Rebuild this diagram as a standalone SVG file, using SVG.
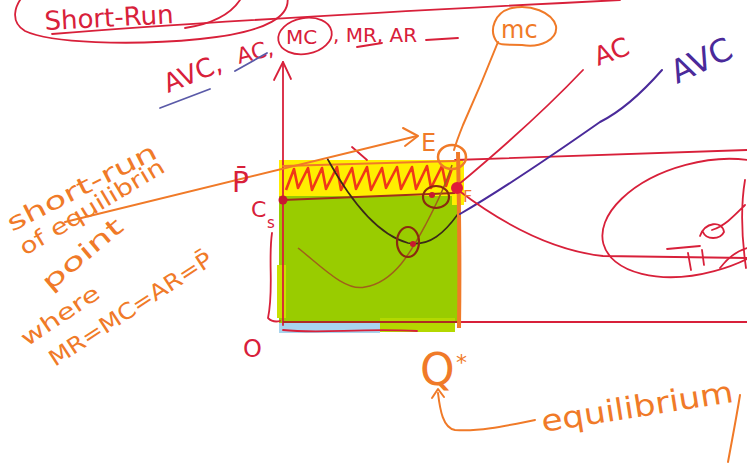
<svg xmlns="http://www.w3.org/2000/svg" width="747" height="465" viewBox="0 0 747 465">
<style>
.r{fill:none;stroke:#d8203a;stroke-width:1.8;stroke-linecap:round;stroke-linejoin:round}
.o{fill:none;stroke:#f07a28;stroke-width:2;stroke-linecap:round;stroke-linejoin:round}
.p{fill:none;stroke:#4a2a9a;stroke-width:2;stroke-linecap:round}
.bl{fill:none;stroke:#5a5aa8;stroke-width:1.8;stroke-linecap:round}
.br{fill:none;stroke:#8a2a10;stroke-width:2.2}
.tr{fill:#d8203a;font-family:'DejaVu Sans',sans-serif}
.to{fill:#f07a28;font-family:'DejaVu Sans',sans-serif}
.tp{fill:#4a2a9a;font-family:'DejaVu Sans',sans-serif}
</style>
<rect width="747" height="465" fill="#ffffff"/>

<g id="title">
<text class="tr" x="45" y="30" font-size="26" transform="rotate(-3 45 30)">Short-Run</text>
<path class="r" d="M287,-5 C292,15 270,32 200,39 C130,46 50,43 25,31 C10,22 14,6 24,-5"/>
<path class="r" d="M240,0 C228,18 205,25 185,28"/>
<path class="r" d="M52,34 C200,22 420,10 620,0"/>
</g>

<g id="fills">
<rect x="279" y="318" width="101" height="15" fill="#a8d4ee"/>
<rect x="279" y="195" width="180" height="128" fill="#99cc00"/>
<rect x="380" y="318" width="75" height="14" fill="#b4d800"/>
<rect x="277" y="265" width="9" height="53" fill="#c8e000"/>
<rect x="279" y="160" width="184" height="36" fill="#ffee00"/>
<rect x="452" y="165" width="12" height="40" fill="#ffee00"/>
<polyline fill="none" stroke="#f03818" stroke-width="2.6" stroke-linejoin="round" points="286,190 294,169 298,188 308,168 312,190 322,168 326,189 337,167 341,190 352,168 356,189 367,167 371,190 382,168 386,188 397,167 401,189 412,167 416,189 427,166 431,188 442,166 446,186 452,168"/>
</g>

<g id="axes">
<path class="r" d="M283,325 L283,62"/>
<path class="r" d="M274,80 L283,62 L291,79"/>
<path class="r" d="M283,322 L747,322"/>
<path class="r" d="M455,160 L747,150"/>
<path class="o" d="M283,166 L455,161"/>
<path fill="none" stroke="#a0301a" stroke-width="2" d="M283,200 L455,193"/>
<path fill="none" stroke="#a0301a" stroke-width="1.6" d="M283,322 L460,322"/>
<path class="r" d="M283,330 C320,334 360,328 417,331"/>
<path class="r" d="M272,233 C268,260 274,290 268,318 C272,322 276,322 280,321"/>
</g>

<g id="curves">
<path fill="none" stroke="#3a2a18" stroke-width="1.6" d="M327,158 C350,200 378,235 408,243 C430,247 445,232 458,214"/>
<path fill="none" stroke="#a0601a" stroke-width="1.5" d="M298,248 C320,265 345,292 365,287 C395,282 412,250 426,224 C436,205 446,184 452,165"/>
<path class="o" stroke-width="2.2" d="M498,42 C485,75 472,105 463,125 C459,135 456,143 454,150"/>
<path fill="none" stroke="#f07a28" stroke-width="4" d="M458,152 C459,200 460,260 459,328"/>
<path class="r" d="M583,70 C545,110 500,150 458,185"/>
<path class="p" d="M662,70 C640,95 620,112 600,122 C560,150 510,185 460,214"/>
<path class="r" d="M458,190 C500,222 550,250 603,256 L747,258"/>
<ellipse class="r" cx="700" cy="218" rx="100" ry="55" transform="rotate(-15 700 218)"/>
<path class="r" d="M667,249 L700,246 M688,253 L691,270 M702,250 L704,265 M700,236 C705,222 722,220 724,232 C720,240 706,240 703,232 M745,180 C740,210 742,240 746,268 M720,268 C730,255 740,250 747,248 M712,230 C725,226 735,215 745,205"/>
<path class="r" d="M352,147 L367,160"/>
</g>

<g id="points">
<circle cx="283" cy="200" r="4.5" fill="#c81830"/>
<circle cx="457" cy="188" r="6" fill="#e01a3a"/>
<ellipse class="br" cx="408" cy="242" rx="11" ry="15"/>
<circle cx="413" cy="244" r="3" fill="#c81830"/>
<ellipse class="br" cx="436" cy="197" rx="13" ry="11"/>
<circle cx="432" cy="195" r="3" fill="#c81830"/>
<ellipse cx="452" cy="157" rx="14" ry="12" fill="none" stroke="#f07a28" stroke-width="2.5"/>
</g>

<g id="arrow-E">
<path class="o" d="M65,222 L417,136"/>
<path class="o" d="M403,128 L418,136 L405,146"/>
<text class="to" x="421" y="151" font-size="24">E</text>
<text class="to" x="463" y="202" font-size="16">F</text>
</g>

<g id="top-labels">
<text class="tr" x="168" y="93" font-size="26" transform="rotate(-22 168 93)">AVC,</text>
<path class="bl" d="M160,108 L210,89"/>
<text class="tr" x="239" y="64" font-size="22" transform="rotate(-15 239 64)">AC,</text>
<path class="bl" d="M235,71 L267,53"/>
<text class="tr" x="286" y="44" font-size="20">MC</text>
<ellipse class="r" cx="305" cy="36" rx="27" ry="18" transform="rotate(-10 305 36)"/>
<text class="tr" x="333" y="42" font-size="20">, MR, AR</text>
<path class="r" d="M357,47 L382,43 M426,40 L458,38"/>
<text class="to" x="501" y="38" font-size="24">mc</text>
<path class="o" d="M497,42 C488,30 495,12 512,8 C530,4 552,12 556,26 C558,40 540,48 522,45 C510,44 500,46 497,42"/>
<text class="tr" x="598" y="66" font-size="26" transform="rotate(-20 598 66)">AC</text>
<text class="tp" x="677" y="84" font-size="32" transform="rotate(-25 677 84)">AVC</text>
</g>

<g id="axis-labels">
<text class="tr" x="232" y="192" font-size="28">P̄</text>
<text class="tr" x="251" y="217" font-size="22">C</text>
<text class="tr" x="267" y="228" font-size="15">s</text>
<text class="tr" x="243" y="357" font-size="24">O</text>
</g>

<g id="note-left">
<text class="to" x="12" y="232" font-size="24" textLength="165" lengthAdjust="spacingAndGlyphs" transform="rotate(-27 12 232)">short-run</text>
<text class="to" x="25" y="256" font-size="22" textLength="165" lengthAdjust="spacingAndGlyphs" transform="rotate(-31 25 256)">of equilibrin</text>
<text class="to" x="50" y="292" font-size="24" textLength="98" lengthAdjust="spacingAndGlyphs" transform="rotate(-40 50 292)">point</text>
<text class="to" x="27" y="347" font-size="22" textLength="90" lengthAdjust="spacingAndGlyphs" transform="rotate(-34 27 347)">where</text>
<text class="to" x="55" y="367" font-size="22" textLength="190" lengthAdjust="spacingAndGlyphs" transform="rotate(-33 55 367)">MR=MC=AR=P̄</text>
</g>

<g id="note-bottom">
<text class="to" x="420" y="385" font-size="44">Q</text>
<text class="to" x="456" y="370" font-size="22">*</text>
<path class="o" d="M438,393 C440,410 443,428 455,430 C480,432 510,425 535,420"/>
<path class="o" d="M432,398 L438,389 L444,397"/>
<text class="to" x="543" y="432" font-size="30" textLength="194" lengthAdjust="spacingAndGlyphs" transform="rotate(-9 543 432)">equilibrium</text>
<path class="o" d="M740,395 C736,420 732,440 728,462"/>
</g>
</svg>
